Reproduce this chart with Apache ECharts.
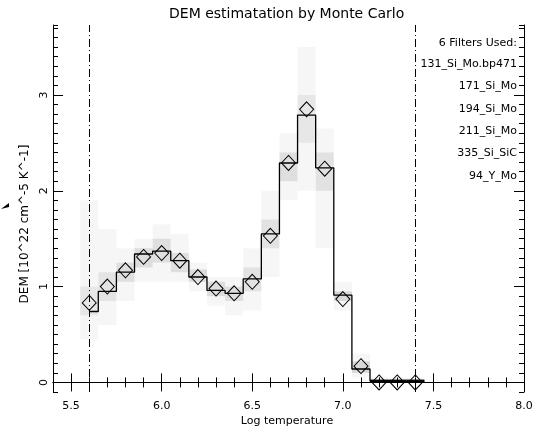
<!DOCTYPE html>
<html>
<head>
<meta charset="utf-8">
<script src="https://cdn.jsdelivr.net/npm/echarts@6/dist/echarts.min.js"></script>
<style>
  html, body { margin: 0; padding: 0; background: #fff; }
  #chart { width: 541px; height: 431px; }
</style>
</head>
<body>
<div id="chart"></div>
<script>
// Temperature bins (log T) and the DEM solution
const logT = [5.6, 5.7, 5.8, 5.9, 6.0, 6.1, 6.2, 6.3, 6.4, 6.5, 6.6, 6.7, 6.8, 6.9, 7.0, 7.1, 7.2, 7.3, 7.4];
const binWidth = 0.1;
// histogram (step) level of the best DEM in each bin
const demStep = [0.74, 0.95, 1.15, 1.34, 1.37, 1.27, 1.10, 0.96, 0.93, 1.08, 1.55, 2.29, 2.79, 2.24, 0.91, 0.14, 0.015, 0.012, 0.012];
// diamond markers: input DEM at bin centres
const demPoints = [0.83, 1.00, 1.17, 1.31, 1.35, 1.27, 1.10, 0.98, 0.93, 1.05, 1.53, 2.29, 2.85, 2.23, 0.87, 0.17, 0.0, 0.0, 0.0];
// spread of the Monte Carlo realisations: wide (faint) and core (darker) ranges
const mcOuterLow  = [0.45, 0.60, 0.85, 1.05, 1.05, 1.05, 0.95, 0.80, 0.70, 0.75, 1.10, 1.90, 2.00, 1.40, 0.75, 0.05, 0.00, 0.00, 0.00];
const mcOuterHigh = [1.90, 1.60, 1.40, 1.50, 1.65, 1.55, 1.25, 1.10, 1.10, 1.40, 2.00, 2.60, 3.50, 2.65, 1.05, 0.30, 0.06, 0.05, 0.05];
const mcCoreLow   = [0.70, 0.85, 1.05, 1.20, 1.25, 1.15, 1.05, 0.90, 0.85, 0.95, 1.40, 2.10, 2.50, 2.00, 0.85, 0.10, 0.00, 0.00, 0.00];
const mcCoreHigh  = [1.00, 1.15, 1.25, 1.40, 1.50, 1.35, 1.18, 1.05, 1.00, 1.20, 1.70, 2.40, 3.00, 2.40, 0.95, 0.22, 0.03, 0.03, 0.03];
// how densely the realisations pile up in the core range (0..1)
const mcCoreDensity = [0.06, 0.07, 0.09, 0.10, 0.09, 0.09, 0.10, 0.10, 0.09, 0.08, 0.08, 0.09, 0.06, 0.08, 0.12, 0.12, 0.9, 0.9, 0.9];
// temperature range limits used for the inversion
const tempLimits = [5.6, 7.4];
// axis ticks and labels
const xMin = 5.4, xMax = 8.0;
const xMajorTicks = [5.5, 6.0, 6.5, 7.0, 7.5, 8.0];
const yMin = -0.1, yMax = 3.73;
const yMajorTicks = [0, 1, 2, 3];
const filterTitle = '6 Filters Used:';
const filters = ['131_Si_Mo.bp471', '171_Si_Mo', '194_Si_Mo', '211_Si_Mo', '335_Si_SiC', '94_Y_Mo'];

const FONT = 'DejaVu Sans';

// step outline built from bin edges; first bin starts at its centre, last ends at its upper edge
const stepLine = [];
for (let i = 0; i < logT.length; i++) {
  const left = i === 0 ? logT[i] : logT[i] - binWidth / 2;
  const right = logT[i] + binWidth / 2;
  stepLine.push([left, demStep[i]]);
  stepLine.push([right, demStep[i]]);
}

const bandData = (lo, hi, dens) => logT.map((t, i) => [t, lo[i], hi[i], dens ? dens[i] : 0.035]);

function bandRenderer(params, api) {
  const x = api.value(0), lo = api.value(1), hi = api.value(2), a = api.value(3);
  const p1 = api.coord([x - binWidth / 2, hi]);
  const p2 = api.coord([x + binWidth / 2, lo]);
  return {
    type: 'rect',
    shape: { x: p1[0], y: p1[1], width: p2[0] - p1[0], height: Math.max(p2[1] - p1[1], 2) },
    style: { fill: 'rgba(0,0,0,' + a + ')' }
  };
}

const line = { show: true, lineStyle: { color: '#000', width: 1 } };
const noLine = { show: false };
const tick = (len, vals) => {
  const t = { show: true, inside: true, length: len, lineStyle: { color: '#000', width: 1 } };
  if (vals) t.customValues = vals;
  return t;
};

const xAxisBase = { type: 'value', min: xMin, max: xMax, splitLine: { show: false } };
const yAxisBase = { type: 'value', min: yMin, max: yMax, splitLine: { show: false } };

const chart = echarts.init(document.getElementById('chart'), null, { renderer: 'canvas' });
chart.setOption({
  animation: false,
  backgroundColor: '#fff',
  textStyle: { fontFamily: FONT },
  title: {
    text: 'DEM estimatation by Monte Carlo',
    left: 164, top: 2,
    textStyle: { fontFamily: FONT, fontSize: 14, fontWeight: 'normal', color: '#000' }
  },
  grid: { left: 53, right: 17, top: 25, bottom: 39, containLabel: false },
  xAxis: [
    Object.assign({}, xAxisBase, { position: 'bottom', interval: 0.1, axisLine: line, axisTick: tick(5), axisLabel: { show: false } }),
    Object.assign({}, xAxisBase, { position: 'bottom', axisLine: noLine, axisTick: tick(9, xMajorTicks),
      axisLabel: { customValues: xMajorTicks, formatter: v => v.toFixed(1), color: '#000', fontSize: 11, fontFamily: FONT, margin: 9 } }),
    Object.assign({}, xAxisBase, { position: 'top', interval: 0.1, axisLine: line, axisTick: tick(5), axisLabel: { show: false } }),
    Object.assign({}, xAxisBase, { position: 'top', axisLine: noLine, axisTick: tick(9, xMajorTicks), axisLabel: { show: false } })
  ],
  yAxis: [
    Object.assign({}, yAxisBase, { position: 'left', interval: 0.1, axisLine: line, axisTick: tick(5), axisLabel: { show: false } }),
    Object.assign({}, yAxisBase, { position: 'left', axisLine: noLine, axisTick: tick(10, yMajorTicks),
      axisLabel: { customValues: yMajorTicks, formatter: v => String(v), rotate: 90, color: '#000', fontSize: 11, fontFamily: FONT, margin: 3 } }),
    Object.assign({}, yAxisBase, { position: 'right', interval: 0.1, axisLine: line, axisTick: tick(5), axisLabel: { show: false } }),
    Object.assign({}, yAxisBase, { position: 'right', axisLine: noLine, axisTick: tick(10, yMajorTicks), axisLabel: { show: false } })
  ],
  series: [
    {
      name: 'mc-outer', type: 'custom', xAxisIndex: 0, yAxisIndex: 0,
      renderItem: bandRenderer, data: bandData(mcOuterLow, mcOuterHigh), z: 1
    },
    {
      name: 'mc-core', type: 'custom', xAxisIndex: 0, yAxisIndex: 0,
      renderItem: bandRenderer, data: bandData(mcCoreLow, mcCoreHigh, mcCoreDensity), z: 2
    },
    {
      name: 'DEM', type: 'line', xAxisIndex: 0, yAxisIndex: 0,
      data: stepLine, showSymbol: false, symbol: 'none',
      lineStyle: { color: '#000', width: 1.3 }, z: 3,
      markLine: {
        silent: true, symbol: 'none', label: { show: false },
        lineStyle: { color: '#000', width: 1, type: [8, 3, 1, 3] },
        data: tempLimits.map(v => ({ xAxis: v }))
      }
    },
    {
      name: 'DEM input', type: 'line', xAxisIndex: 0, yAxisIndex: 0,
      data: logT.map((t, i) => [t, demPoints[i]]),
      lineStyle: { opacity: 0 }, symbol: 'diamond', symbolSize: [14, 15], showSymbol: true,
      itemStyle: { color: 'rgba(0,0,0,0)', borderColor: '#000', borderWidth: 1 }, z: 4
    }
  ],
  graphic: [
    {
      type: 'text', x: 25, y: 224, rotation: Math.PI / 2,
      style: { text: 'DEM [10^22 cm^-5 K^-1]', fill: '#000', font: '12px "DejaVu Sans"', align: 'center', verticalAlign: 'middle' }
    },
    {
      type: 'text', x: 287, y: 421,
      style: { text: 'Log temperature', fill: '#000', font: '11px "DejaVu Sans"', align: 'center', verticalAlign: 'middle' }
    },
    {
      type: 'text', x: 517, y: 43,
      style: { text: filterTitle, fill: '#000', font: '11px "DejaVu Sans"', align: 'right', verticalAlign: 'middle' }
    }
  ].concat(filters.map((f, i) => ({
    type: 'text', x: 517, y: 64 + i * 22.4,
    style: { text: f, fill: '#000', font: '11px "DejaVu Sans"', align: 'right', verticalAlign: 'middle' }
  }))).concat([
    { type: 'polygon', shape: { points: [[1, 209], [9, 203], [9, 207]] }, style: { fill: '#000' } }
  ])
});
</script>
</body>
</html>
